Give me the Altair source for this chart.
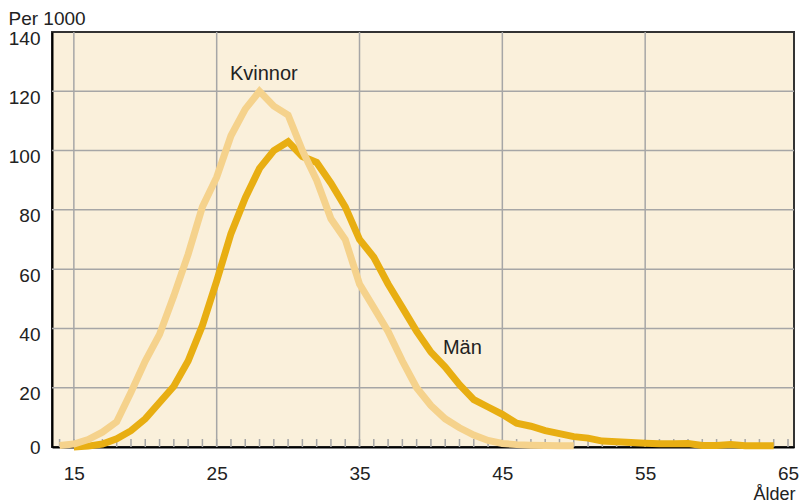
import altair as alt
import pandas as pd

# ---- data ----
ages_kvinnor = list(range(14, 51))
kvinnor = [0.5, 1, 2.5, 5, 8.5, 18.5, 29, 38, 51, 65, 81, 91, 105, 114, 120,
           115, 112, 100, 90, 77, 70, 55, 47, 39, 29, 20, 14, 9.5, 6.5, 4,
           2.2, 1.2, 0.8, 0.6, 0.5, 0.4, 0.4]

ages_man = list(range(15, 65))
man = [0, 0.3, 1, 2.8, 5.5, 9.5, 15, 20.5, 29, 41, 56, 72, 84, 94, 100, 103,
       98, 96, 89, 81, 70, 64, 55, 47, 39, 32, 27, 21, 16, 13.5, 11, 8, 7,
       5.5, 4.5, 3.5, 3, 2, 1.8, 1.5, 1.3, 1.1, 1.1, 1.2, 0.5, 0.5, 0.8,
       0.4, 0.4, 0.4]

x_labels = [15, 25, 35, 45, 55, 65]
x_grid = [15, 25, 35, 45, 55]
y_labels = [0, 20, 40, 60, 80, 100, 120, 140]
y_grid = [20, 40, 60, 80, 100, 120]
minor_ticks = list(range(14, 66))

series_labels = ["Kvinnor", "Män"]
label_x = [28.3, 42.2]
label_y = [126, 33.4]

# ---- styling ----
FONT = "Liberation Sans"
TXT = "#222222"
LIGHT = "#F5D28C"
DARK = "#E8AE12"
BG = "#FAF0DB"
GRID = "#A6A6A6"
TICK_LEN = 2.7  # in data units (~8px)

df_k = pd.DataFrame({"age": ages_kvinnor, "value": kvinnor})
df_m = pd.DataFrame({"age": ages_man, "value": man})
df_vg = pd.DataFrame({"age": x_grid})
df_hg = pd.DataFrame({"value": y_grid})
df_t = pd.DataFrame({"age": minor_ticks, "y0": 0.0, "y1": TICK_LEN})
df_lab = pd.DataFrame({"label": series_labels, "age": label_x, "value": label_y})

xscale = alt.Scale(domain=[13.47, 65.42], nice=False, zero=False)
yscale = alt.Scale(domain=[0, 140], nice=False)

xaxis = alt.Axis(values=x_labels, grid=False, ticks=False, labelPadding=17,
                 domainColor="#000000", domainWidth=2, labelFont=FONT,
                 labelFontSize=19, labelColor=TXT,
                 title="Ålder", titleFont=FONT, titleFontSize=18,
                 titleFontWeight="normal", titleColor=TXT,
                 titleAnchor="end", titleAlign="right",
                 titleBaseline="alphabetic", titleX=743, titleY=52)
yaxis = alt.Axis(values=y_labels, grid=False, ticks=False, labelPadding=12,
                 labelOffset={"condition": {"test": "datum.value == 0", "value": 0},
                              "value": 6},
                 domainColor="#000000", domainWidth=2,
                 labelFont=FONT, labelFontSize=19, labelColor=TXT,
                 title="Per 1000", titleFont=FONT, titleFontSize=19,
                 titleFontWeight="normal", titleColor=TXT,
                 titleAngle=0, titleAlign="left", titleBaseline="alphabetic",
                 titleAnchor="start", titleX=-44, titleY=-8)

vgrid = alt.Chart(df_vg).mark_rule(color=GRID, strokeWidth=1.5).encode(
    x=alt.X("age:Q", scale=xscale, axis=xaxis))
hgrid = alt.Chart(df_hg).mark_rule(color=GRID, strokeWidth=1.5).encode(
    y=alt.Y("value:Q", scale=yscale, axis=yaxis))
ticks = alt.Chart(df_t).mark_rule(color=GRID, strokeWidth=1.5).encode(
    x=alt.X("age:Q", scale=xscale),
    y=alt.Y("y0:Q", scale=yscale),
    y2="y1:Q")

line_m = alt.Chart(df_m).mark_line(color=DARK, strokeWidth=7, clip=False).encode(
    x=alt.X("age:Q", scale=xscale), y=alt.Y("value:Q", scale=yscale))
line_k = alt.Chart(df_k).mark_line(color=LIGHT, strokeWidth=7, clip=False).encode(
    x=alt.X("age:Q", scale=xscale), y=alt.Y("value:Q", scale=yscale))

labels = alt.Chart(df_lab).mark_text(font=FONT, fontSize=20, color=TXT,
                                     align="center", baseline="middle").encode(
    x=alt.X("age:Q", scale=xscale), y=alt.Y("value:Q", scale=yscale),
    text="label:N")

chart = alt.layer(vgrid, hgrid, ticks, line_m, line_k, labels).properties(
    width=742, height=415,
    autosize=alt.AutoSizeParams(type="none"),
    padding={"left": 44, "top": 24, "right": 5, "bottom": 56},
).configure_view(fill=BG, stroke="#333333", strokeWidth=2)

chart.save("out.html", embed_options={"renderer": "svg", "actions": False})
